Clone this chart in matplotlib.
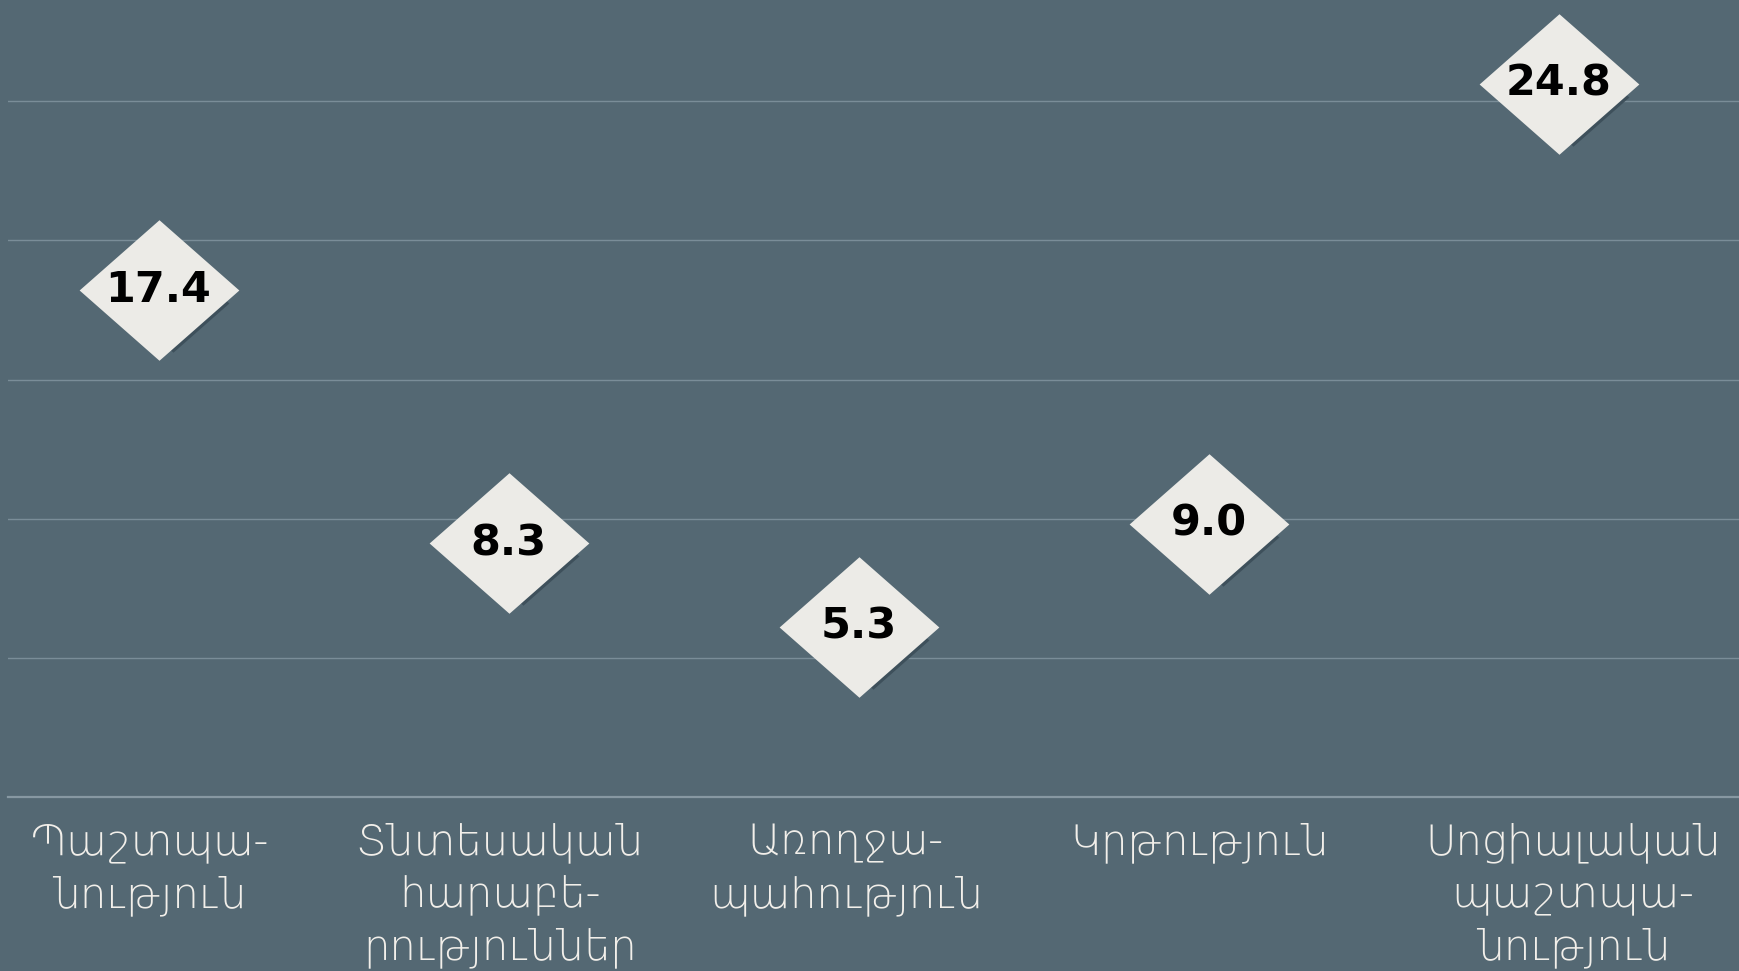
import numpy as np
import matplotlib.pyplot as plt
from matplotlib.path import Path
from matplotlib.transforms import ScaledTranslation

categories = ["Պաշտպա-\nնություն",
              "Տնտեսական\nհարաբե-\nրություններ",
              "Առողջա-\nպահություն",
              "Կրթություն",
              "Սոցիալական\nպաշտպա-\nնություն"]
values = [17.4, 8.3, 5.3, 9.0, 24.8]
grid_levels = [5, 10, 15, 20, 25]

BG = '#546873'
GRID = '#7a8d98'
DIAMOND = '#ecebe7'
SHADOW = '#3e505b'
LABEL = '#f2efea'

plt.rcParams['font.family'] = ['DejaVu Sans']

fig = plt.figure(figsize=(17.4, 9.71), dpi=100, facecolor=BG)
ax = fig.add_axes([0.0046, 0.179, 0.9954, 0.821])
ax.set_facecolor(BG)

x = np.arange(len(values))
ax.set_xlim(-0.43, 4.517)
ax.set_ylim(0, 28.63)

for g in grid_levels:
    ax.axhline(g, color=GRID, lw=1.0, zorder=1)
ax.axhline(0, color='#8798a2', lw=1.6, zorder=1, clip_on=False)

# wide diamond marker (a bit wider than tall)
diamond = Path([(0, 0.88), (1, 0), (0, -0.88), (-1, 0), (0, 0.88)],
               [Path.MOVETO, Path.LINETO, Path.LINETO, Path.LINETO, Path.CLOSEPOLY])

# labels sit a little above the actual value
lift = ax.transData + ScaledTranslation(0, 0.23, fig.dpi_scale_trans)
shadow_tr = ax.transData + ScaledTranslation(0.14, 0.23 - 0.13, fig.dpi_scale_trans)

ax.plot(x, values, ls='none', marker=diamond, markersize=115 * 0.7,
        color=SHADOW, mec='none', transform=shadow_tr, zorder=2)
ax.plot(x, values, ls='none', marker=diamond, markersize=115,
        color=DIAMOND, mec='none', transform=lift, zorder=3)

for xi, v in zip(x, values):
    ax.text(xi, v, f'{v:.1f}', transform=lift, ha='center', va='center',
            fontsize=31, fontweight='bold', color='black', zorder=4)

ax.set_xticks(x)
ax.set_xticklabels(categories, fontsize=30, color=LABEL, fontweight='light',
                   linespacing=1.33)
ax.tick_params(axis='x', length=0, pad=18)
ax.set_yticks([])
for s in ax.spines.values():
    s.set_visible(False)

# small horizontal nudges of the category labels (pixels)
nudges = [-9, -9, -13, -9, 14]
for lbl, dx in zip(ax.get_xticklabels(), nudges):
    lbl.set_transform(lbl.get_transform() + ScaledTranslation(dx / 100, 0, fig.dpi_scale_trans))

fig.savefig('out.png', dpi=100, facecolor=BG)
